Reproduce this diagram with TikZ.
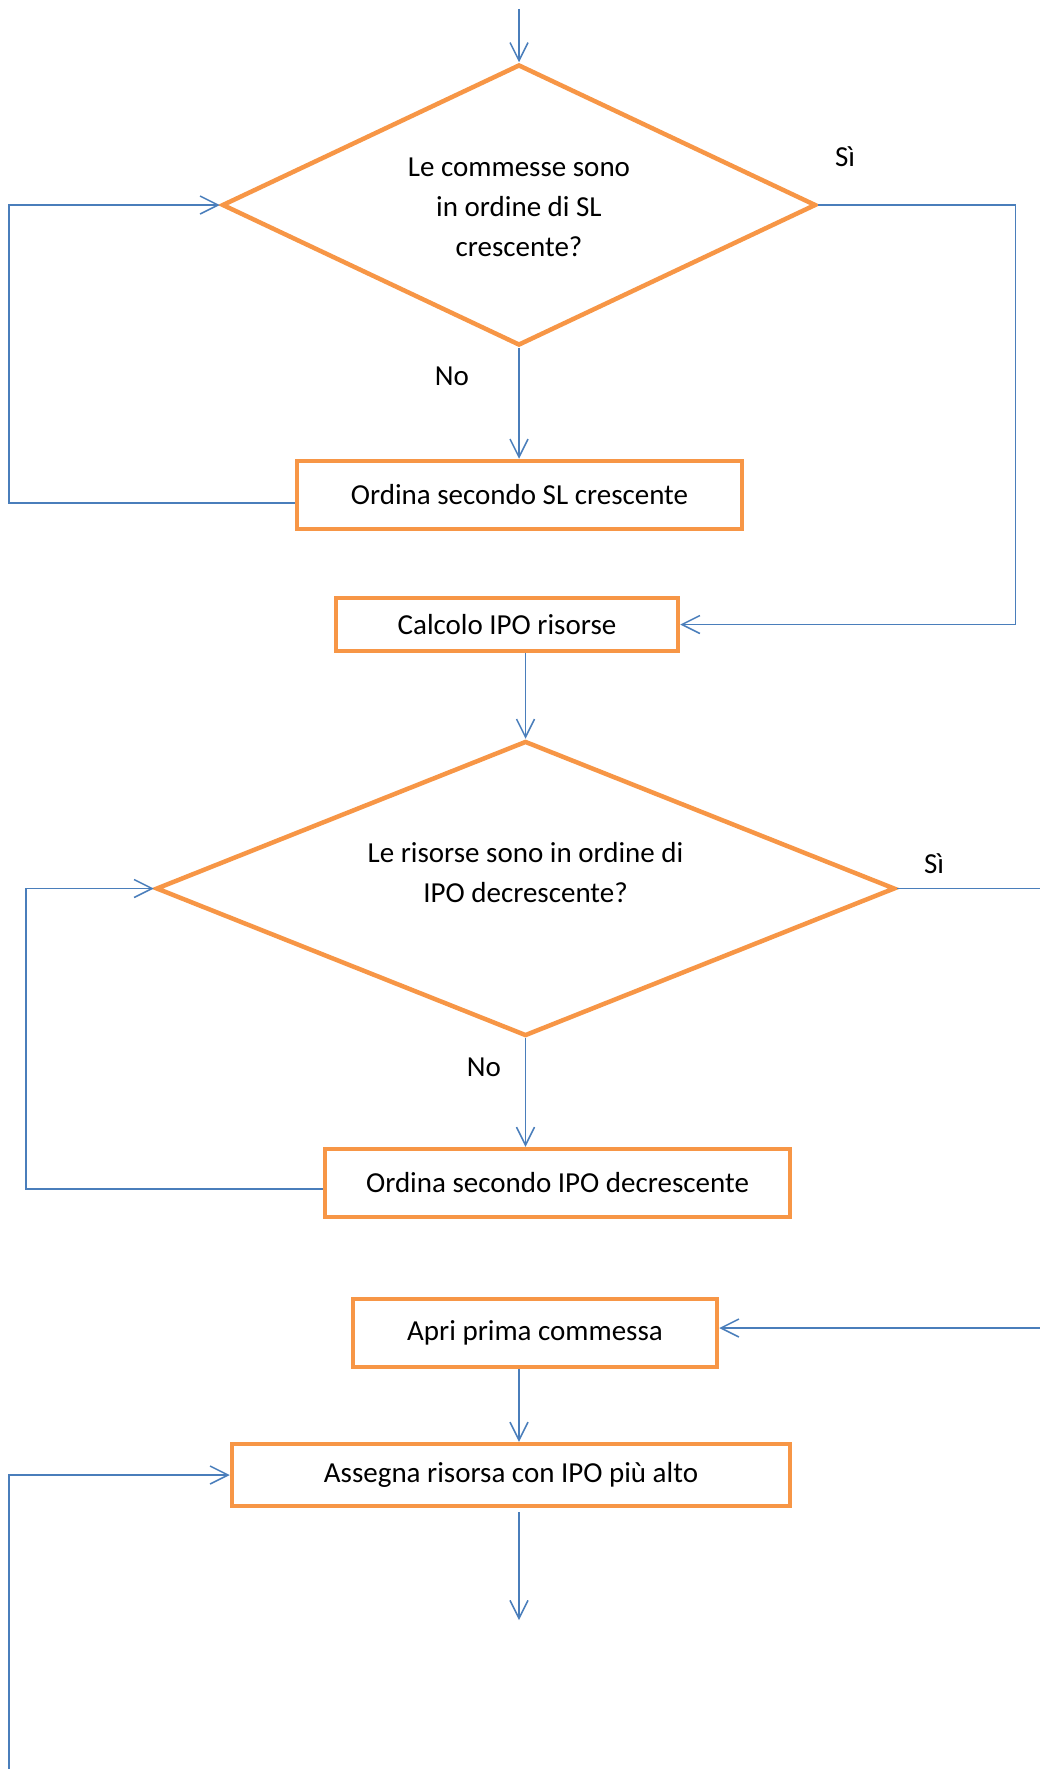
\documentclass[tikz,border=0pt]{standalone}
\usepackage{fontspec}
\setmainfont{Carlito}
\usetikzlibrary{arrows.meta,shapes.geometric}
\definecolor{boxorange}{HTML}{F79646}
\definecolor{linkblue}{HTML}{4A7EBB}
\begin{document}
\begin{tikzpicture}[x=1pt,y=-1pt,
  every node/.style={font=\fontsize{29}{40}\selectfont, text=black},
  stepbox/.style={draw=boxorange, line width=4.5pt, rectangle, inner sep=0pt, fill=white},
  choice/.style={draw=boxorange, line width=4.5pt, diamond, inner sep=0pt, fill=white},
  link/.style={draw=linkblue, line width=1.5pt},
  arr/.style={link, -{Straight Barb[length=18pt,width=18pt,line width=1.5pt]}},
  lbl/.style={inner sep=0pt}
]
\useasboundingbox (0,0) rectangle (1040,1769);

% decision and action nodes
\node[choice, minimum width=594pt, minimum height=281pt] (d1) at (519,205) {};
\node[lbl, align=center] (d1text) at (519,207) {Le commesse sono\\in ordine di SL\\crescente?};
\node[stepbox, minimum width=445pt, minimum height=68pt] (ordSL) at (519.5,495) {Ordina secondo SL crescente};
\node[stepbox, minimum width=342pt, minimum height=53pt] (calc) at (507,624.5) {Calcolo IPO risorse};
\node[choice, minimum width=739pt, minimum height=295pt] (d2) at (525.5,888.5) {};
\node[lbl, align=center] (d2text) at (525.5,873) {Le risorse sono in ordine di\\IPO decrescente?};
\node[stepbox, minimum width=465pt, minimum height=68pt] (ordIPO) at (557.5,1183) {Ordina secondo IPO decrescente};
\node[stepbox, minimum width=364pt, minimum height=68pt] (apri) at (535,1333) {Apri prima commessa};
\node[stepbox, minimum width=558pt, minimum height=62pt] (asse) at (511,1475) {Assegna risorsa con IPO più alto};

% branch labels
\node[lbl] (si1) at (845,157) {Sì};
\node[lbl] (no1) at (452,376) {No};
\node[lbl] (si2) at (934,864) {Sì};
\node[lbl] (no2) at (484,1067) {No};

% free ends of connectors
\coordinate (start) at (519,9);
\coordinate (colA) at (519,0);
\coordinate (outD2) at (1040,890);
\coordinate (inApri) at (1040,1328);
\coordinate (loopIn) at (9,1769);
\coordinate (tailTop) at (519,1512);
\coordinate (tailEnd) at (519,1620);

% connectors
\draw[arr] (start) -- (d1.north);
\draw[arr] (d1.south) -- (d1.south |- ordSL.north);
\draw[arr] ([yshift=-8pt]ordSL.west) -- ++(-286,0) |- (d1.west);
\draw[arr] (d1.east) -- ++(197,0) |- (calc.east);
\draw[arr] (calc.south -| d2.north) -- (d2.north);
\draw[link] (d2.east) -- (d2.east -| outD2);
\draw[arr] (d2.south) -- (d2.south |- ordIPO.north);
\draw[arr] ([yshift=-6pt]ordIPO.west) -- ++(-297,0) |- (d2.west);
\draw[arr] (inApri) -- (inApri -| apri.east);
\draw[arr] (apri.south -| colA) -- (asse.north -| colA);
\draw[arr] (loopIn) |- (asse.west);
\draw[arr] (tailTop) -- (tailEnd);
\end{tikzpicture}
\end{document}
